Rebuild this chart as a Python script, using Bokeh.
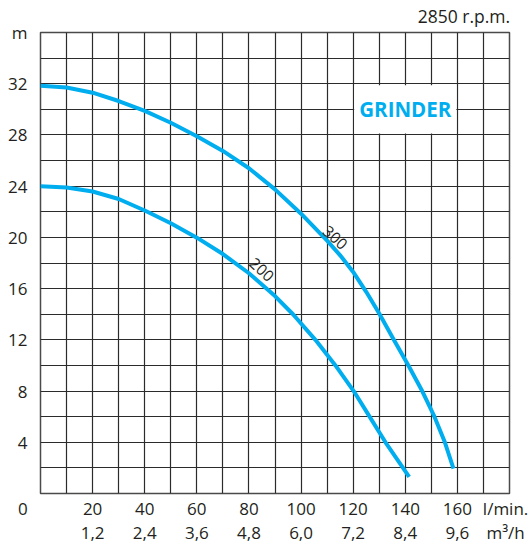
from bokeh.plotting import figure
from bokeh.models import Range1d, FixedTicker, LinearAxis
from bokeh.core.properties import value
from bokeh.embed import file_html
from bokeh.resources import INLINE
import math

# ---- data ----
flow_300 = [0, 10, 20, 30, 40, 50, 60, 70, 80, 90, 100, 110, 115, 120, 125, 130, 135.6, 141.2, 146.5, 151.2, 155.2, 158.5]
head_300 = [31.85, 31.7, 31.3, 30.65, 29.88, 28.95, 27.9, 26.75, 25.4, 23.75, 21.85, 19.75, 18.6, 17.3, 15.75, 14.05, 12.0, 10.0, 8.0, 6.0, 4.0, 1.95]

flow_200 = [0, 10, 20, 30, 40, 50, 60, 70, 80, 90, 96.9, 105.5, 113.2, 120.2, 126.3, 132.4, 141.5]
head_200 = [24.0, 23.9, 23.58, 23.0, 22.1, 21.1, 19.98, 18.7, 17.2, 15.42, 14.0, 12.0, 10.0, 8.0, 6.0, 4.0, 1.3]

x_ticks_lmin = [20, 40, 60, 80, 100, 120, 140, 160]
x_labels_m3h = ["1,2", "2,4", "3,6", "4,8", "6,0", "7,2", "8,4", "9,6"]
zero_tick = 0
zero_label = "0"
unit_tick = 178.5
unit_label = "l/min.\nm³/h"
y_ticks = [4, 8, 12, 16, 20, 24, 28, 32]
y_unit_tick = 36
y_unit_label = "m"

curve_names = ["300", "200"]
curve_label_pos = [(113.2, 20.0), (85.0, 17.5)]

title_text = "2850 r.p.m."
title_tick = 162.5
badge_text = "GRINDER"
badge_box = (120, 160, 28, 32)

BLUE = "#00AEEF"
DARK = "#231F20"
FONT = "Open Sans"
NBSP = "\u00a0"

p = figure(width=530, height=546, x_range=Range1d(0, 180), y_range=Range1d(0, 36),
           output_backend="svg", toolbar_location=None, title=None,
           min_border_left=40, min_border_right=21, min_border_top=31, min_border_bottom=52)
p.background_fill_color = "white"
p.border_fill_color = "white"
p.outline_line_color = "#4a4a4a"
p.outline_line_width = 1.5

xa = p.below[0]
ya = p.left[0]

# speed note as a label-only axis above the frame
top_axis = LinearAxis(ticker=FixedTicker(ticks=[title_tick]),
                      major_label_overrides={title_tick: title_text})
p.add_layout(top_axis, "above")

# grids
p.xgrid.ticker = FixedTicker(ticks=list(range(0, 181, 10)))
p.ygrid.ticker = FixedTicker(ticks=list(range(0, 37, 2)))
for g in (p.xgrid, p.ygrid):
    g.grid_line_color = "#2b2b2b"
    g.grid_line_width = 1.2
    g.grid_line_alpha = 1.0

# bottom axis with two-line labels
xa.ticker = FixedTicker(ticks=[zero_tick] + x_ticks_lmin + [unit_tick])
ov = {t: f"{t}\n{m}" for t, m in zip(x_ticks_lmin, x_labels_m3h)}
ov[unit_tick] = unit_label
ov[zero_tick] = zero_label + NBSP * 8
xa.major_label_overrides = ov
ya.ticker = FixedTicker(ticks=y_ticks + [y_unit_tick])
ya.major_label_overrides = {y_unit_tick: y_unit_label}
for ax in (xa, ya, top_axis):
    ax.axis_line_color = None
    ax.major_tick_line_color = None
    ax.minor_tick_line_color = None
    ax.major_tick_out = 0
    ax.major_tick_in = 0
    ax.minor_tick_out = 0
    ax.major_label_text_font = FONT
    ax.major_label_text_font_size = "17px"
    ax.major_label_text_color = DARK
top_axis.major_label_text_font_size = "17.5px"
top_axis.major_label_standoff = 5
xa.major_label_text_line_height = 1.05
xa.major_label_standoff = 3
ya.major_label_standoff = 13

# white box behind badge
bl, br, bb, bt = badge_box
p.quad(left=[bl + 0.4], right=[br - 0.4], bottom=[bb + 0.12], top=[bt - 0.12],
       fill_color="white", line_color=None)

# curves
p.line(flow_300, head_300, line_color=BLUE, line_width=4, line_join="round")
p.line(flow_200, head_200, line_color=BLUE, line_width=4, line_join="round")

# curve labels
p.text(x=[c[0] for c in curve_label_pos], y=[c[1] for c in curve_label_pos], text=curve_names,
       angle=-42.5 * math.pi / 180, text_align="center", text_baseline="middle",
       text_font=value(FONT), text_font_size="15.5px", text_color=DARK)

# badge
p.text(x=[(bl + br) / 2], y=[(bb + bt) / 2], text=[badge_text], text_align="center",
       text_baseline="middle", text_font=value(FONT), text_font_style="bold",
       text_font_size="20.5px", text_color=BLUE)

open("out.html", "w").write(file_html(p, INLINE))
